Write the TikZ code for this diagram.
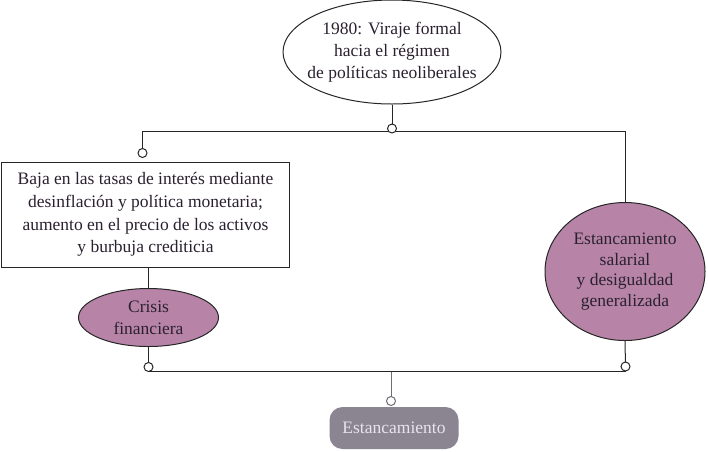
\documentclass[tikz,border=0pt]{standalone}
\usepackage{fontspec}
\setmainfont{Liberation Serif}
\usetikzlibrary{shapes.geometric,backgrounds}
\definecolor{malva}{RGB}{183,132,168}
\definecolor{gris}{RGB}{138,133,145}
\definecolor{grislinea}{RGB}{112,107,117}
\definecolor{tinta}{RGB}{42,32,48}
\definecolor{claro}{RGB}{232,228,238}
\tikzset{
  linea/.style={line width=1pt, draw=black!85},
  lineagris/.style={line width=1pt, draw=grislinea},
  ovalo/.style={ellipse, linea, fill=white, inner sep=0pt},
  ovalomalva/.style={ovalo, fill=malva},
  texto/.style={align=center, text=tinta, inner sep=0pt, font=\fontsize{17.5}{22}\selectfont},
  caja/.style={rectangle, linea, fill=white, align=center, text=tinta, font=\fontsize{17.5}{22.8}\selectfont},
  fin/.style={rectangle, rounded corners=13pt, fill=gris, text=claro, font=\fontsize{17.5}{20}\selectfont},
  conector/.style={circle, linea, fill=white, minimum size=9pt, inner sep=0pt},
  conectorgris/.style={conector, draw=grislinea}
}
\begin{document}
\begin{tikzpicture}[x=1pt, y=-1pt]
  \useasboundingbox (0,0) rectangle (708,451);

  \node[ovalo, minimum width=218, minimum height=104] (viraje) at (392,52) {};
  \node[texto] (viraje-t) at (viraje) {1980: Viraje formal\\hacia el régimen\\de políticas neoliberales};

  \node[caja, minimum width=288, minimum height=105] (baja) at (145.5,214.5)
    {Baja en las tasas de interés mediante\\desinflación y política monetaria;\\aumento en el precio de los activos\\y burbuja crediticia};

  \node[ovalomalva, minimum width=140, minimum height=58] (crisis) at (148.5,317.5) {};
  \node[texto] (crisis-t) at (crisis) {Crisis\\financiera};

  \node[ovalomalva, minimum width=160, minimum height=138] (salarial) at (625,271.5) {};
  \node[texto, font=\fontsize{17.5}{20.8}\selectfont] (salarial-t) at (salarial)
    {Estancamiento\\salarial\\y desigualdad\\generalizada};

  \node[fin, minimum width=129, minimum height=42] (estanc) at (394,428) {Estancamiento};

  \node[conector] (c0) at (392,128.5) {};
  \node[conector] (c1) at (142.5,153) {};
  \node[conector] (c2) at (148.5,367) {};
  \node[conector] (c3) at (625.5,366.5) {};
  \node[conectorgris] (c4) at (391,401) {};

  \coordinate (arriba) at (0,131.5);
  \coordinate (abajo) at (0,371.5);

  \begin{scope}[on background layer]
    \draw[linea] (viraje.south) -- (c0.center);
    \draw[linea] (c1.center) |- (arriba -| salarial.north) -- (salarial.north);
    \draw[linea] (crisis.north |- baja.south) -- (crisis.north);
    \draw[linea] (crisis.south) -- (c2.center);
    \draw[linea] (salarial.south) -- (c3.center);
    \draw[linea] (c2 |- abajo) -- (c3 |- abajo);
    \draw[lineagris] (c4 |- abajo) -- (c4.center);
  \end{scope}
\end{tikzpicture}
\end{document}
